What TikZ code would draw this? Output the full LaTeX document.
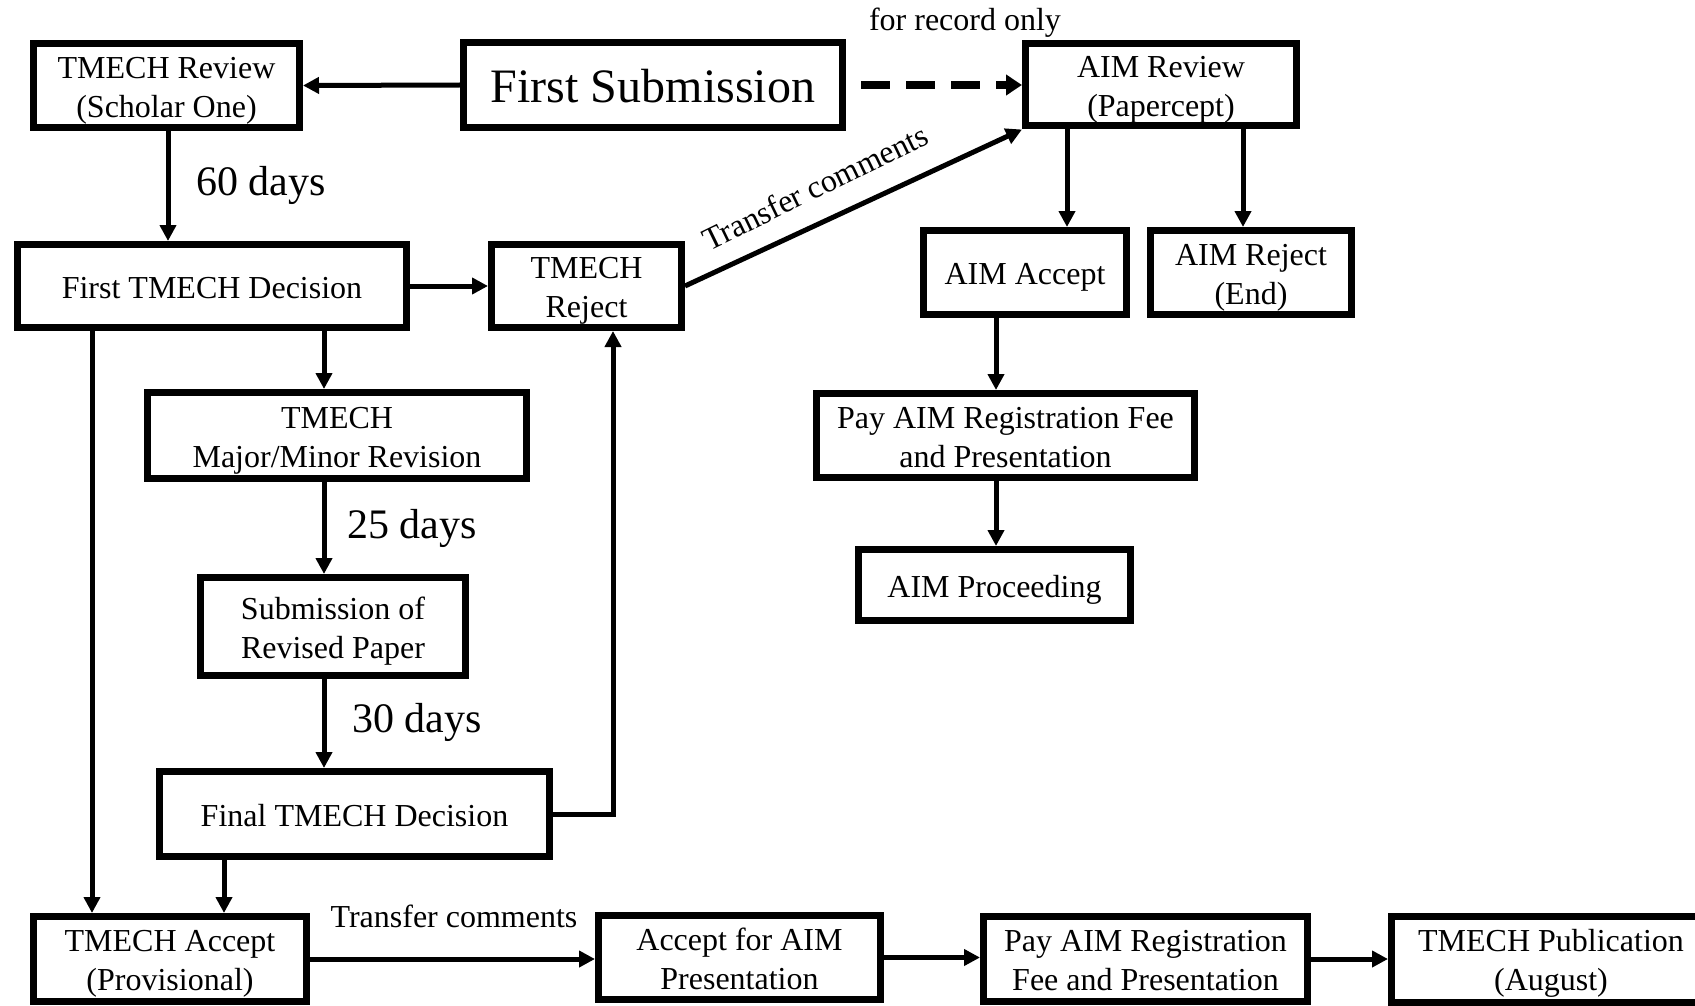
\documentclass[tikz,border=0pt]{standalone}
\usepackage{fontspec}
\setmainfont{Liberation Serif}
\usetikzlibrary{arrows.meta}
\newcommand{\bt}[1]{\raisebox{-4.5pt}[\height][\depth]{\begin{tabular}{@{}c@{}}#1\end{tabular}}}
\begin{document}
\begin{tikzpicture}[x=1pt,y=1pt,
  box/.style={draw, line width=7pt, inner sep=2pt, align=center, font=\fontsize{32}{39}\selectfont},
  arr/.style={line width=5pt, -{Triangle[length=16pt,width=16pt]}},
  dasharr/.style={line width=8pt, dash pattern=on 29pt off 16pt, -{Triangle[length=16pt,width=20pt]}},
  lbl/.style={font=\fontsize{32}{37}\selectfont, inner sep=0pt, anchor=base},
  bigl/.style={font=\fontsize{42}{48}\selectfont, inner sep=0pt, anchor=base}
]
\useasboundingbox (0,0) rectangle (1695,-1006);
% nodes
\node[box, minimum width=266, minimum height=84] (rev) at (166.5,-85.5) {\bt{TMECH Review\\(Scholar One)}};
\node[box, minimum width=379, minimum height=85, font=\fontsize{48}{54}\selectfont] (sub) at (653,-85) {\raisebox{-1pt}[\height][\depth]{First Submission}};
\node[box, minimum width=271, minimum height=79] (aimrev) at (1161,-85) {\bt{AIM Review\\(Papercept)}};
\node[box, minimum width=389, minimum height=83] (dec1) at (212,-286) {\bt{First TMECH Decision}};
\node[box, minimum width=190, minimum height=83] (rej) at (586.5,-286) {\bt{TMECH\\Reject}};
\node[box, minimum width=203, minimum height=84] (aimacc) at (1025,-272.5) {\bt{AIM Accept}};
\node[box, minimum width=201, minimum height=84] (aimrej) at (1251,-272.5) {\bt{AIM Reject\\(End)}};
\node[box, minimum width=379, minimum height=86] (maj) at (337,-435.5) {\bt{TMECH\\Major/Minor Revision}};
\node[box, minimum width=378, minimum height=84] (pay1) at (1005.5,-435.5) {\bt{Pay AIM Registration Fee\\and Presentation}};
\node[box, minimum width=272, minimum height=71] (proc) at (994.5,-585) {\bt{AIM Proceeding}};
\node[box, minimum width=265, minimum height=98] (subrev) at (333,-626.5) {\bt{Submission of\\Revised Paper}};
\node[box, minimum width=390, minimum height=85] (fin) at (354.5,-814) {\bt{Final TMECH Decision}};
\node[box, minimum width=273, minimum height=85] (acc) at (170,-959) {\bt{TMECH Accept\\(Provisional)}};
\node[box, minimum width=282, minimum height=84] (accaim) at (739.5,-957.5) {\bt{Accept for AIM\\Presentation}};
\node[box, minimum width=324, minimum height=85] (pay2) at (1145.5,-959) {\bt{Pay AIM Registration\\Fee and Presentation}};
\node[box, minimum width=319, minimum height=86] (pub) at (1551,-959) {\bt{TMECH Publication\\(August)}};
% column coordinates
\coordinate (cL) at (92,0);
\coordinate (cRev) at (168,0);
\coordinate (cA) at (324,0);
\coordinate (cB) at (224,0);
\coordinate (cR) at (613,0);
\coordinate (cC) at (1067,0);
\coordinate (cD) at (1243,0);
\coordinate (cE) at (996,0);
\coordinate (dstart) at ([xshift=15]sub.east);
% connectors
\draw[arr] (sub.west) -- (rev.east);
\draw[dasharr] (dstart) -- (dstart -| aimrev.west);
\draw[arr] (cRev |- rev.south) -- (cRev |- dec1.north);
\draw[arr] (dec1.east) -- (rej.west);
\draw[arr] (cA |- dec1.south) -- (cA |- maj.north);
\draw[arr] (cA |- maj.south) -- (cA |- subrev.north);
\draw[arr] (cA |- subrev.south) -- (cA |- fin.north);
\draw[arr] (cL |- dec1.south) -- (cL |- acc.north);
\draw[arr] (cB |- fin.south) -- (cB |- acc.north);
\draw[arr] (fin.east) -| (cR |- rej.south);
\draw[arr] (rej.east) -- (aimrev.south west);
\draw[arr] (cC |- aimrev.south) -- (cC |- aimacc.north);
\draw[arr] (cD |- aimrev.south) -- (cD |- aimrej.north);
\draw[arr] (cE |- aimacc.south) -- (cE |- pay1.north);
\draw[arr] (cE |- pay1.south) -- (cE |- proc.north);
\draw[arr] (acc.east) -- (acc.east -| accaim.west);
\draw[arr] (accaim.east) -- (accaim.east -| pay2.west);
\draw[arr] (pay2.east) -- (pay2.east -| pub.west);
% labels
\node[lbl] (lrec) at (965,-31) {for record only};
\node[bigl] (l60) at (261,-195) {60 days};
\node[bigl] (l25) at (412,-538) {25 days};
\node[bigl] (l30) at (417,-732) {30 days};
\node[lbl] (ltr1) at (454,-927) {Transfer comments};
\node[lbl, rotate=26] (ltr2) at (820,-197) {Transfer comments};
\end{tikzpicture}
\end{document}
